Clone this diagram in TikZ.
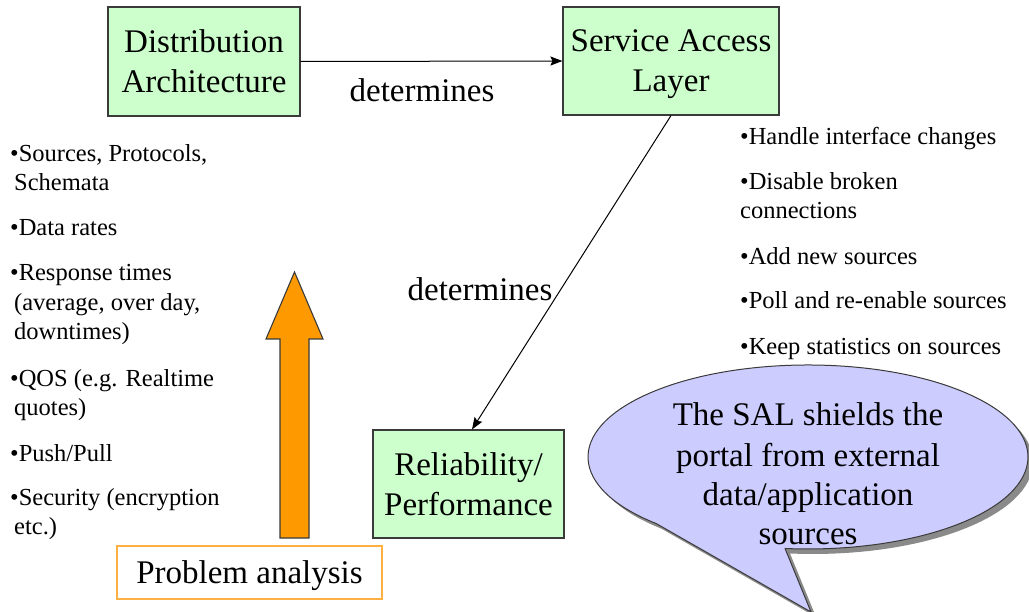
\documentclass[tikz,border=0pt]{standalone}
\usepackage{fontspec}
\setmainfont{Liberation Serif}
\usetikzlibrary{arrows.meta}
\definecolor{boxgreen}{HTML}{CCFFCC}
\definecolor{edgegray}{HTML}{3A3A3A}
\definecolor{arroworange}{HTML}{FF9900}
\definecolor{frameorange}{HTML}{FFB040}
\definecolor{bubblefill}{HTML}{CCCCFF}
\definecolor{shadowgray}{HTML}{8A8A8A}
\newcommand\labfont{\fontsize{33}{40}\selectfont}
\newcommand\listfont{\fontsize{24.5}{29}\selectfont}
\begin{document}
\begin{tikzpicture}[x=1pt,y=-1pt,
  box/.style={draw=edgegray, fill=boxgreen, line width=1.1pt, align=center,
    inner sep=0pt, font=\labfont},
  conn/.style={draw=black, line width=1pt, -{Stealth[length=12pt,width=9pt,inset=2pt]}},
  lab/.style={anchor=base, inner sep=0pt, font=\labfont},
  item/.style={anchor=base west, inner sep=0pt, font=\listfont},
  bigarrow/.style={draw=edgegray, fill=arroworange, line width=1.1pt, line join=miter},
  frame/.style={draw=frameorange, fill=white, line width=1.1pt, minimum width=265pt,
    minimum height=53pt, inner sep=0pt, font=\labfont},
  bubble/.style={draw=edgegray, fill=bubblefill, line width=1pt, line join=round},
]
\useasboundingbox (0,0) rectangle (1029,612);

% main blocks
\node[box, minimum width=192pt, minimum height=109pt] (da) at (204,61.5)
  {Distribution\\Architecture};
\node[box, minimum width=216pt, minimum height=108pt] (sal) at (671,61) {};
\node[lab] (sal1) at (671,52) {Service Access};
\node[lab] (sal2) at (671,92) {Layer};
\node[box, minimum width=191pt, minimum height=108pt] (rp) at (468.5,484)
  {Reliability/\\Performance};

% connectors
\draw[conn] (da.east) -- (sal.west);
\node[lab] (det1) at (422,102) {determines};
\draw[conn] (sal.south) -- ([xshift=3.5pt]rp.north);
\node[lab] (det2) at (480,301) {determines};

% problem analysis and the upward arrow
\draw[bigarrow] (294.5,272) -- (323,339) -- (309,339) -- (309,538) -- (280,538)
  -- (280,339) -- (266,339) -- cycle;
\node[frame] (pa) at (249.5,572.5) {};
\node[lab] (patext) at (249.5,583) {Problem analysis};

% left list
\node[item] (a1) at (10,162) {•Sources, Protocols,};
\node[item] (a2) at (14,191) {Schemata};
\node[item] (a3) at (10,236) {•Data rates};
\node[item] (a4) at (10,281) {•Response times};
\node[item] (a5) at (14,311) {(average, over day,};
\node[item] (a6) at (14,340) {downtimes)};
\node[item] (a7) at (10,387) {•QOS (e.g. Realtime};
\node[item] (a8) at (14,416) {quotes)};
\node[item] (a9) at (10,461) {•Push/Pull};
\node[item] (a10) at (10,505) {•Security (encryption};
\node[item] (a11) at (14,534) {etc.)};

% right list
\node[item] (b1) at (740,145) {•Handle interface changes};
\node[item] (b2) at (740,190) {•Disable broken};
\node[item] (b3) at (740,219) {connections};
\node[item] (b4) at (740,265) {•Add new sources};
\node[item] (b5) at (740,309) {•Poll and re-enable sources};
\node[item] (b6) at (740,355) {•Keep statistics on sources};

% speech bubble with shadow
\fill[shadowgray] ([shift={(5,5)}]811,612) -- ([shift={(5,5)}]656.3,523.6)
  arc[start angle=133.6, end angle=456, x radius=220, y radius=92] -- cycle;
\draw[bubble] (811,612) -- (656.3,523.6)
  arc[start angle=133.6, end angle=456, x radius=220, y radius=92] -- cycle;
\node[lab] (s1) at (808,426) {The SAL shields the};
\node[lab] (s2) at (808,466) {portal from external};
\node[lab] (s3) at (808,505) {data/application};
\node[lab] (s4) at (808,544) {sources};
\end{tikzpicture}
\end{document}
